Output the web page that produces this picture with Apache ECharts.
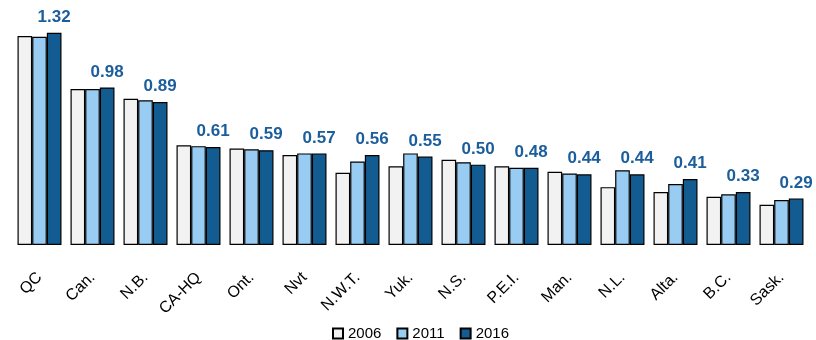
<!DOCTYPE html>
<html>
<head>
<meta charset="utf-8">
<script src="https://cdn.jsdelivr.net/npm/echarts@6/dist/echarts.min.js"></script>
<style>html,body{margin:0;padding:0;background:#fff}#c{width:816px;height:340px}</style>
</head>
<body>
<div id="c"></div>
<script>
const categories = ['QC','Can.','N.B.','CA-HQ','Ont.','Nvt','N.W.T.','Yuk.','N.S.','P.E.I.','Man.','N.L.','Alta.','B.C.','Sask.'];
const seriesNames = ['2006','2011','2016'];
const values2006 = [1.30,0.97,0.91,0.62,0.60,0.56,0.45,0.49,0.53,0.49,0.455,0.36,0.33,0.30,0.25];
const values2011 = [1.295,0.97,0.90,0.615,0.595,0.57,0.52,0.57,0.515,0.48,0.445,0.465,0.38,0.315,0.28];
const values2016 = [1.32,0.98,0.89,0.61,0.59,0.57,0.56,0.55,0.50,0.48,0.44,0.44,0.41,0.33,0.29];

const colors = ['#f2f2f2','#99ccf2','#135c92'];
const chart = echarts.init(document.getElementById('c'), null, {renderer:'canvas'});
const data = [values2006, values2011, values2016];
chart.setOption({
  animation: false,
  grid: {left: 13, right: 8, top: 20, bottom: 95, containLabel: false},
  legend: {
    data: seriesNames,
    left: 327, top: 321,
    itemWidth: 10, itemHeight: 10, itemGap: 15,
    icon: 'rect',
    textStyle: {fontFamily: 'Liberation Sans, Arial', fontSize: 15, color: '#000'}
  },
  xAxis: {
    type: 'category', data: categories,
    axisLine: {show: false}, axisTick: {show: false},
    axisLabel: {interval: 0, rotate: 45, margin: 30, fontFamily: 'Liberation Sans, Arial', fontSize: 16, color: '#000'}
  },
  yAxis: {type: 'value', min: 0, max: 1.4, show: false, splitLine: {show: false}},
  series: seriesNames.map((n, i) => ({
    name: n, type: 'bar', data: data[i],
    barGap: '0%', barCategoryGap: '17%',
    itemStyle: {color: colors[i], borderColor: '#000', borderWidth: 1.2},
    label: i === 2 ? {
      show: true, position: 'top', distance: 7,
      formatter: p => p.value.toFixed(2),
      fontFamily: 'Liberation Sans, Arial', fontWeight: 'bold', fontSize: 17, color: '#1c5e9c'
    } : {show: false}
  }))
});
</script>
</body>
</html>
